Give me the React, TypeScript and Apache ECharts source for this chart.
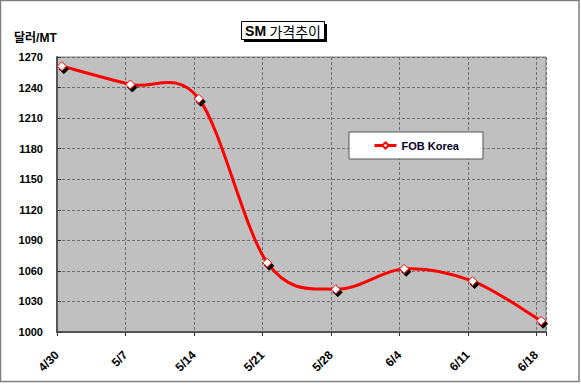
import React, { useEffect, useRef } from "react";
import * as echarts from "echarts";

const dateLabels = ["4/30", "5/7", "5/14", "5/21", "5/28", "6/4", "6/11", "6/18"];
const dayOffsets = [0, 7, 14, 21, 28, 35, 42, 49];
const fobKorea = [1261, 1243, 1229, 1068, 1042, 1062, 1050, 1011];
const yTicks = { min: 1000, max: 1270, step: 30 };
const seriesName = "FOB Korea";
const yUnit = "달러/MT";

export default function App() {
  const ref = useRef<HTMLDivElement>(null);
  useEffect(() => {
    if (!ref.current) return;
    const chart = echarts.init(ref.current, null, { renderer: "svg" });
    const font = "'Liberation Sans', Arial, 'Noto Sans CJK KR', sans-serif";
    const points = fobKorea.map((v, i) => [dayOffsets[i] + 0.5, v]);
    const n = points.length;

    const renderSegment = (params: any, api: any) => {
      const i = params.dataIndex;
      if (i >= n - 1) return null;
      const c = (k: number) => api.coord(points[Math.max(0, Math.min(n - 1, k))]);
      const p0 = c(i - 1);
      const p1 = c(i);
      const p2 = c(i + 1);
      const p3 = c(i + 2);
      return {
        type: "bezierCurve",
        shape: {
          x1: p1[0],
          y1: p1[1],
          cpx1: p1[0] + (p2[0] - p0[0]) / 6,
          cpy1: p1[1] + (p2[1] - p0[1]) / 6,
          cpx2: p2[0] - (p3[0] - p1[0]) / 6,
          cpy2: p2[1] - (p3[1] - p1[1]) / 6,
          x2: p2[0],
          y2: p2[1],
        },
        style: { stroke: "#ff0000", lineWidth: 3, fill: "none", lineCap: "round" },
        silent: true,
      };
    };

    chart.setOption({
      animation: false,
      backgroundColor: "#ffffff",
      textStyle: { fontFamily: font },
      graphic: [
        {
          type: "rect",
          shape: { x: 0.5, y: 0.5, width: 578.5, height: 381 },
          style: { fill: "none", stroke: "#7f7f7f", lineWidth: 1.5 },
          silent: true,
        },
        {
          type: "rect",
          shape: { x: 244, y: 24, width: 83, height: 18 },
          style: { fill: "#000" },
          silent: true,
        },
        {
          type: "rect",
          shape: { x: 241.5, y: 21.5, width: 83, height: 18 },
          style: { fill: "#fff", stroke: "#000", lineWidth: 1 },
          silent: true,
        },
        {
          type: "text",
          x: 283,
          y: 31,
          style: {
            text: "{a|SM} {b|가격추이}",
            align: "center",
            verticalAlign: "middle",
            rich: {
              a: { fontSize: 14, fontWeight: "bold", fill: "#000", fontFamily: font },
              b: { fontSize: 14, fill: "#000", fontFamily: "'Noto Sans CJK KR', sans-serif" },
            },
          },
          silent: true,
        },
        {
          type: "text",
          x: 14,
          y: 38,
          style: {
            text: yUnit,
            fontSize: 12,
            fontWeight: "bold",
            fill: "#000",
            verticalAlign: "middle",
            fontFamily: font,
          },
          silent: true,
        },
      ],
      legend: {
        show: true,
        left: 349,
        top: 132,
        orient: "horizontal",
        backgroundColor: "#fff",
        borderColor: "#555",
        borderWidth: 1,
        padding: [8, 24, 8, 24],
        itemWidth: 22,
        itemHeight: 8,
        itemGap: 4,
        lineStyle: { color: "#ff0000", width: 3, opacity: 1 },
        textStyle: { fontSize: 11, fontWeight: "bold", color: "#000022", fontFamily: font },
        data: [seriesName],
      },
      grid: {
        left: 57,
        right: 35,
        top: 57,
        bottom: 53,
        show: true,
        backgroundColor: "#c0c0c0",
        borderColor: "#808080",
        borderWidth: 1,
      },
      xAxis: {
        type: "value",
        min: 0,
        max: 50,
        interval: 7,
        axisLine: { show: true, lineStyle: { color: "#555", width: 2 } },
        axisTick: { show: true, length: 4, lineStyle: { color: "#333" } },
        splitLine: { show: true, lineStyle: { color: "#6e6e6e", type: [3, 2], width: 1 } },
        axisLabel: {
          rotate: 45,
          margin: 21,
          fontSize: 12,
          fontWeight: "bold",
          color: "#000",
          fontFamily: font,
          formatter: (v: number) => {
            const i = dayOffsets.indexOf(v);
            return i >= 0 ? dateLabels[i] : "";
          },
        },
      },
      yAxis: {
        type: "value",
        min: yTicks.min,
        max: yTicks.max,
        interval: yTicks.step,
        axisLine: { show: true, lineStyle: { color: "#555", width: 2 } },
        axisTick: { show: true, inside: true, length: 4, lineStyle: { color: "#333" } },
        splitLine: { show: true, lineStyle: { color: "#6e6e6e", type: [3, 2], width: 1 } },
        axisLabel: {
          margin: 14,
          fontSize: 11,
          fontWeight: "bold",
          color: "#000",
          fontFamily: font,
          formatter: (v: number) => String(v),
        },
      },
      series: [
        {
          name: "curve",
          type: "custom",
          renderItem: renderSegment,
          data: points,
          clip: true,
          z: 2,
        },
        {
          name: seriesName,
          type: "line",
          data: points,
          symbol: "diamond",
          symbolSize: 9,
          lineStyle: { color: "#ff0000", width: 3, opacity: 0 },
          itemStyle: {
            color: "#ffffff",
            borderColor: "#ff0000",
            borderWidth: 1,
            shadowColor: "#000",
            shadowOffsetX: 2,
            shadowOffsetY: 3,
            shadowBlur: 0,
          },
          z: 3,
        },
      ],
    });
    return () => chart.dispose();
  }, []);
  return (
    <div
      ref={ref}
      style={{ position: "fixed", left: 0, top: 0, width: 581, height: 385 }}
    />
  );
}
